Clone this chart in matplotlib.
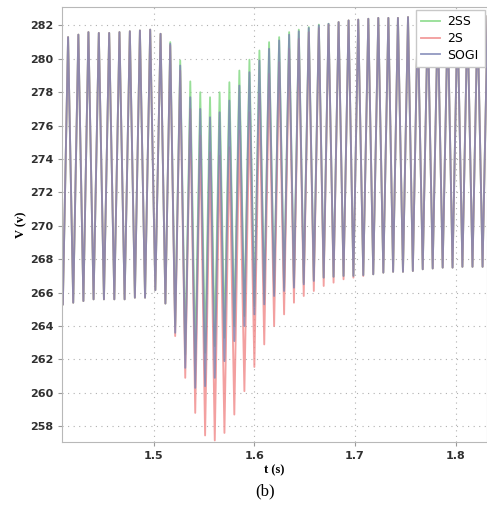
import matplotlib
matplotlib.use('Agg')
import matplotlib.pyplot as plt

# times of the crests and of the troughs (s)
t_peak = [1.4152, 1.4254, 1.4354, 1.4457, 1.4560, 1.4662, 1.4765, 1.4865, 1.4967, 1.5070,
          1.5166, 1.5265, 1.5365, 1.5464, 1.5561, 1.5656, 1.5753, 1.5852, 1.5952, 1.6051,
          1.6147, 1.6247, 1.6346, 1.6442, 1.6541, 1.6641, 1.6737, 1.6837, 1.6936, 1.7032,
          1.7132, 1.7231, 1.7331, 1.7426, 1.7526, 1.7622, 1.7722, 1.7821, 1.7920, 1.8017,
          1.8116, 1.8216, 1.8316]
t_trough = [1.4100, 1.4203, 1.4304, 1.4405, 1.4508, 1.4611, 1.4713, 1.4815, 1.4916, 1.5018,
            1.5118, 1.5215, 1.5315, 1.5414, 1.5512, 1.5608, 1.5704, 1.5802, 1.5902, 1.6001,
            1.6099, 1.6197, 1.6296, 1.6394, 1.6491, 1.6591, 1.6689, 1.6787, 1.6886, 1.6984,
            1.7082, 1.7181, 1.7281, 1.7378, 1.7476, 1.7574, 1.7672, 1.7771, 1.7870, 1.7968,
            1.8066, 1.8166, 1.8266]

# 2SS
peak_2ss = [281.3, 281.45, 281.6, 281.55, 281.55, 281.6, 281.65, 281.7, 281.75, 281.5,
            281.0, 279.9, 278.65, 278.0, 277.7, 278.0, 278.6, 279.3, 279.95, 280.5,
            281.0, 281.3, 281.6, 281.75, 281.9, 282.05, 282.1, 282.2, 282.3, 282.35,
            282.4, 282.45, 282.45, 282.45, 282.5, 282.5, 282.5, 282.5, 282.5, 282.55,
            282.55, 282.55, 282.55]
trough_2ss = [265.3, 265.4, 265.5, 265.6, 265.6, 265.6, 265.6, 265.7, 265.7, 266.15,
              265.35, 264.0, 262.3, 262.0, 262.4, 262.8, 263.3, 264.0, 264.6, 265.2,
              265.6, 266.0, 266.3, 266.45, 266.6, 266.75, 266.9, 266.95, 267.0, 267.0,
              267.05, 267.1, 267.2, 267.25, 267.25, 267.3, 267.4, 267.45, 267.5, 267.5,
              267.55, 267.55, 267.55]

# 2S
peak_2s = [281.3, 281.45, 281.6, 281.55, 281.55, 281.6, 281.65, 281.7, 281.75, 281.5,
           280.8, 279.3, 277.0, 275.4, 274.4, 274.2, 274.7, 275.7, 276.8, 277.9,
           279.1, 279.8, 280.6, 281.2, 281.6, 281.85, 282.05, 282.2, 282.3, 282.35,
           282.4, 282.45, 282.45, 282.45, 282.5, 282.5, 282.5, 282.5, 282.5, 282.55,
           282.55, 282.55, 282.55]
trough_2s = [265.3, 265.4, 265.5, 265.6, 265.6, 265.6, 265.6, 265.7, 265.7, 266.15,
             265.35, 263.4, 260.9, 258.8, 257.45, 257.15, 257.6, 258.7, 260.1, 261.55,
             262.9, 264.0, 264.7, 265.4, 265.8, 266.1, 266.4, 266.6, 266.8, 266.9,
             267.0, 267.1, 267.2, 267.25, 267.25, 267.3, 267.4, 267.45, 267.5, 267.5,
             267.55, 267.55, 267.55]

# SOGI
peak_sogi = [281.3, 281.45, 281.6, 281.55, 281.55, 281.6, 281.65, 281.7, 281.75, 281.5,
             280.9, 279.6, 277.7, 277.0, 276.5, 276.8, 277.5, 278.4, 279.2, 279.9,
             280.6, 281.1, 281.45, 281.65, 281.85, 282.0, 282.1, 282.2, 282.3, 282.35,
             282.4, 282.45, 282.45, 282.45, 282.5, 282.5, 282.5, 282.5, 282.5, 282.55,
             282.55, 282.55, 282.55]
trough_sogi = [265.3, 265.4, 265.5, 265.6, 265.6, 265.6, 265.6, 265.7, 265.7, 266.15,
               265.35, 263.6, 261.5, 260.3, 260.4, 260.9, 261.9, 263.1, 264.0, 264.7,
               265.3, 265.8, 266.1, 266.3, 266.5, 266.7, 266.9, 266.95, 267.0, 267.0,
               267.05, 267.1, 267.2, 267.25, 267.25, 267.3, 267.4, 267.45, 267.5, 267.5,
               267.55, 267.55, 267.55]

labels = ['2SS', '2S', 'SOGI']
colors = ['#80d880', '#f08888', '#7c84b4']
x_ticks = [1.5, 1.6, 1.7, 1.8]
y_ticks = list(range(258, 283, 2))


def zigzag(tt, vt, tp, vp):
    # trough, crest, trough, crest ...
    xs, ys = [], []
    for i in range(len(tt)):
        xs.append(tt[i])
        ys.append(vt[i])
        xs.append(tp[i])
        ys.append(vp[i])
    return xs, ys


fig = plt.figure(figsize=(4.87, 5.07), dpi=100)
ax = fig.add_axes([0.128, 0.128, 0.872, 0.858])

series = [(trough_2ss, peak_2ss), (trough_2s, peak_2s), (trough_sogi, peak_sogi)]
for (vt, vp), lab, c in zip(series, labels, colors):
    xs, ys = zigzag(t_trough, vt, t_peak, vp)
    ax.plot(xs, ys, color=c, lw=1.35, alpha=0.8, label=lab)

ax.set_xlim(1.4095, 1.831)
ax.set_ylim(257.05, 283.1)
ax.set_xticks(x_ticks)
ax.set_xticklabels([str(v) for v in x_ticks])
ax.set_yticks(y_ticks)
ax.grid(True, linestyle=(0, (1, 4)), color='#b0b0b0', lw=0.8)
for s in ax.spines.values():
    s.set_color('#b8b8b8')
ax.tick_params(colors='#9a9a9a', labelcolor='#303030', labelsize=8, length=3)
for lbl in ax.get_xticklabels() + ax.get_yticklabels():
    lbl.set_fontweight('bold')

ax.set_xlabel('t (s)', family='Liberation Serif', fontweight='bold', fontsize=9, labelpad=2)
ax.set_ylabel('V (v)', family='Liberation Serif', fontweight='bold', fontsize=9, labelpad=2)

leg = ax.legend(loc='upper right', fontsize=9, handlelength=1.5, frameon=True,
                fancybox=False, borderpad=0.45, labelspacing=0.3, borderaxespad=0.2,
                handletextpad=0.6)
leg.get_frame().set_edgecolor('#c8c8c8')
leg.get_frame().set_alpha(1.0)

fig.text(0.545, 0.022, '(b)', family='Liberation Serif', fontsize=12, ha='center')

fig.savefig('out.png', dpi=100)
